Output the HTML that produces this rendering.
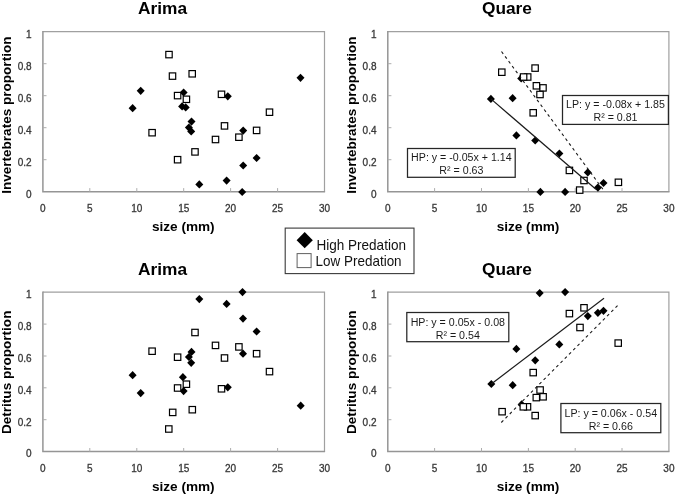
<!DOCTYPE html>
<html><head><meta charset="utf-8"><title>Diet proportion vs size</title>
<style>html,body{margin:0;padding:0;background:#fff;}svg{display:block;will-change:transform;filter:blur(0.3px);}text{font-family:"Liberation Sans", sans-serif;}</style></head><body>
<svg width="675" height="495" viewBox="0 0 675 495">
<rect x="0" y="0" width="675" height="495" fill="#ffffff"/>
<g id="panel-TL">
<text x="162.6" y="14.3" font-size="17.3" font-weight="bold" fill="#000" text-anchor="middle">Arima</text>
<path d="M42.9 31.7 H324.5 V191.7" fill="none" stroke="#a0a0a0" stroke-width="1.2"/>
<path d="M42.9 31.1 V191.7 H325.1" fill="none" stroke="#959595" stroke-width="1.5"/>
<text x="31.6" y="197.5" font-size="10.0" fill="#383838" stroke="#383838" stroke-width="0.3" text-anchor="end">0</text>
<path d="M42.9 159.7 h3.6" stroke="#adadad" stroke-width="1"/>
<text x="31.6" y="165.5" font-size="10.0" fill="#383838" stroke="#383838" stroke-width="0.3" text-anchor="end">0.2</text>
<path d="M42.9 127.7 h3.6" stroke="#adadad" stroke-width="1"/>
<text x="31.6" y="133.5" font-size="10.0" fill="#383838" stroke="#383838" stroke-width="0.3" text-anchor="end">0.4</text>
<path d="M42.9 95.7 h3.6" stroke="#adadad" stroke-width="1"/>
<text x="31.6" y="101.5" font-size="10.0" fill="#383838" stroke="#383838" stroke-width="0.3" text-anchor="end">0.6</text>
<path d="M42.9 63.7 h3.6" stroke="#adadad" stroke-width="1"/>
<text x="31.6" y="69.5" font-size="10.0" fill="#383838" stroke="#383838" stroke-width="0.3" text-anchor="end">0.8</text>
<text x="31.6" y="37.5" font-size="10.0" fill="#383838" stroke="#383838" stroke-width="0.3" text-anchor="end">1</text>
<text x="42.9" y="211.6" font-size="10.0" fill="#383838" stroke="#383838" stroke-width="0.3" text-anchor="middle">0</text>
<path d="M89.8 191.7 v-3.6" stroke="#adadad" stroke-width="1"/>
<text x="89.8" y="211.6" font-size="10.0" fill="#383838" stroke="#383838" stroke-width="0.3" text-anchor="middle">5</text>
<path d="M136.8 191.7 v-3.6" stroke="#adadad" stroke-width="1"/>
<text x="136.8" y="211.6" font-size="10.0" fill="#383838" stroke="#383838" stroke-width="0.3" text-anchor="middle">10</text>
<path d="M183.7 191.7 v-3.6" stroke="#adadad" stroke-width="1"/>
<text x="183.7" y="211.6" font-size="10.0" fill="#383838" stroke="#383838" stroke-width="0.3" text-anchor="middle">15</text>
<path d="M230.6 191.7 v-3.6" stroke="#adadad" stroke-width="1"/>
<text x="230.6" y="211.6" font-size="10.0" fill="#383838" stroke="#383838" stroke-width="0.3" text-anchor="middle">20</text>
<path d="M277.6 191.7 v-3.6" stroke="#adadad" stroke-width="1"/>
<text x="277.6" y="211.6" font-size="10.0" fill="#383838" stroke="#383838" stroke-width="0.3" text-anchor="middle">25</text>
<text x="324.5" y="211.6" font-size="10.0" fill="#383838" stroke="#383838" stroke-width="0.3" text-anchor="middle">30</text>
<text x="183.3" y="230.7" font-size="13.6" font-weight="bold" fill="#000" text-anchor="middle">size (mm)</text>
<text transform="translate(11.4 115.2) rotate(-90)" font-size="13.55" font-weight="bold" fill="#000" text-anchor="middle">Invertebrates proportion</text>
<path d="M140.7 86.7 l4.0 4.1 l-4.0 4.1 l-4.0 -4.1 z" fill="#000"/>
<path d="M132.6 104.1 l4.0 4.1 l-4.0 4.1 l-4.0 -4.1 z" fill="#000"/>
<path d="M183.6 88.4 l4.0 4.1 l-4.0 4.1 l-4.0 -4.1 z" fill="#000"/>
<path d="M182.1 102.3 l4.0 4.1 l-4.0 4.1 l-4.0 -4.1 z" fill="#000"/>
<path d="M185.7 103.3 l4.0 4.1 l-4.0 4.1 l-4.0 -4.1 z" fill="#000"/>
<path d="M191.5 117.5 l4.0 4.1 l-4.0 4.1 l-4.0 -4.1 z" fill="#000"/>
<path d="M188.9 123.5 l4.0 4.1 l-4.0 4.1 l-4.0 -4.1 z" fill="#000"/>
<path d="M191.2 127.3 l4.0 4.1 l-4.0 4.1 l-4.0 -4.1 z" fill="#000"/>
<path d="M227.8 92.2 l4.0 4.1 l-4.0 4.1 l-4.0 -4.1 z" fill="#000"/>
<path d="M300.5 73.7 l4.0 4.1 l-4.0 4.1 l-4.0 -4.1 z" fill="#000"/>
<path d="M243.2 126.5 l4.0 4.1 l-4.0 4.1 l-4.0 -4.1 z" fill="#000"/>
<path d="M256.6 153.9 l4.0 4.1 l-4.0 4.1 l-4.0 -4.1 z" fill="#000"/>
<path d="M243.2 161.4 l4.0 4.1 l-4.0 4.1 l-4.0 -4.1 z" fill="#000"/>
<path d="M199.3 180.3 l4.0 4.1 l-4.0 4.1 l-4.0 -4.1 z" fill="#000"/>
<path d="M226.6 176.5 l4.0 4.1 l-4.0 4.1 l-4.0 -4.1 z" fill="#000"/>
<path d="M242.2 187.9 l4.0 4.1 l-4.0 4.1 l-4.0 -4.1 z" fill="#000"/>
<rect x="266.3" y="109.0" width="6.4" height="6.4" fill="#fff" stroke="#000" stroke-width="1.2"/>
<rect x="253.4" y="127.2" width="6.4" height="6.4" fill="#fff" stroke="#000" stroke-width="1.2"/>
<rect x="235.7" y="134.0" width="6.4" height="6.4" fill="#fff" stroke="#000" stroke-width="1.2"/>
<rect x="221.3" y="122.7" width="6.4" height="6.4" fill="#fff" stroke="#000" stroke-width="1.2"/>
<rect x="218.3" y="91.1" width="6.4" height="6.4" fill="#fff" stroke="#000" stroke-width="1.2"/>
<rect x="212.3" y="136.3" width="6.4" height="6.4" fill="#fff" stroke="#000" stroke-width="1.2"/>
<rect x="191.8" y="148.7" width="6.4" height="6.4" fill="#fff" stroke="#000" stroke-width="1.2"/>
<rect x="189.0" y="70.6" width="6.4" height="6.4" fill="#fff" stroke="#000" stroke-width="1.2"/>
<rect x="183.2" y="96.1" width="6.4" height="6.4" fill="#fff" stroke="#000" stroke-width="1.2"/>
<rect x="174.4" y="92.4" width="6.4" height="6.4" fill="#fff" stroke="#000" stroke-width="1.2"/>
<rect x="174.4" y="156.5" width="6.4" height="6.4" fill="#fff" stroke="#000" stroke-width="1.2"/>
<rect x="169.3" y="72.9" width="6.4" height="6.4" fill="#fff" stroke="#000" stroke-width="1.2"/>
<rect x="165.8" y="51.4" width="6.4" height="6.4" fill="#fff" stroke="#000" stroke-width="1.2"/>
<rect x="148.9" y="129.5" width="6.4" height="6.4" fill="#fff" stroke="#000" stroke-width="1.2"/>
</g>
<g id="panel-TR">
<text x="507.0" y="14.1" font-size="17.3" font-weight="bold" fill="#000" text-anchor="middle">Quare</text>
<path d="M387.8 31.7 H668.9 V191.7" fill="none" stroke="#a0a0a0" stroke-width="1.2"/>
<path d="M387.8 31.1 V191.7 H669.5" fill="none" stroke="#959595" stroke-width="1.5"/>
<text x="376.5" y="197.5" font-size="10.0" fill="#383838" stroke="#383838" stroke-width="0.3" text-anchor="end">0</text>
<path d="M387.8 159.7 h3.6" stroke="#adadad" stroke-width="1"/>
<text x="376.5" y="165.5" font-size="10.0" fill="#383838" stroke="#383838" stroke-width="0.3" text-anchor="end">0.2</text>
<path d="M387.8 127.7 h3.6" stroke="#adadad" stroke-width="1"/>
<text x="376.5" y="133.5" font-size="10.0" fill="#383838" stroke="#383838" stroke-width="0.3" text-anchor="end">0.4</text>
<path d="M387.8 95.7 h3.6" stroke="#adadad" stroke-width="1"/>
<text x="376.5" y="101.5" font-size="10.0" fill="#383838" stroke="#383838" stroke-width="0.3" text-anchor="end">0.6</text>
<path d="M387.8 63.7 h3.6" stroke="#adadad" stroke-width="1"/>
<text x="376.5" y="69.5" font-size="10.0" fill="#383838" stroke="#383838" stroke-width="0.3" text-anchor="end">0.8</text>
<text x="376.5" y="37.5" font-size="10.0" fill="#383838" stroke="#383838" stroke-width="0.3" text-anchor="end">1</text>
<text x="387.8" y="211.6" font-size="10.0" fill="#383838" stroke="#383838" stroke-width="0.3" text-anchor="middle">0</text>
<path d="M434.6 191.7 v-3.6" stroke="#adadad" stroke-width="1"/>
<text x="434.6" y="211.6" font-size="10.0" fill="#383838" stroke="#383838" stroke-width="0.3" text-anchor="middle">5</text>
<path d="M481.5 191.7 v-3.6" stroke="#adadad" stroke-width="1"/>
<text x="481.5" y="211.6" font-size="10.0" fill="#383838" stroke="#383838" stroke-width="0.3" text-anchor="middle">10</text>
<path d="M528.4 191.7 v-3.6" stroke="#adadad" stroke-width="1"/>
<text x="528.4" y="211.6" font-size="10.0" fill="#383838" stroke="#383838" stroke-width="0.3" text-anchor="middle">15</text>
<path d="M575.2 191.7 v-3.6" stroke="#adadad" stroke-width="1"/>
<text x="575.2" y="211.6" font-size="10.0" fill="#383838" stroke="#383838" stroke-width="0.3" text-anchor="middle">20</text>
<path d="M622.0 191.7 v-3.6" stroke="#adadad" stroke-width="1"/>
<text x="622.0" y="211.6" font-size="10.0" fill="#383838" stroke="#383838" stroke-width="0.3" text-anchor="middle">25</text>
<text x="668.9" y="211.6" font-size="10.0" fill="#383838" stroke="#383838" stroke-width="0.3" text-anchor="middle">30</text>
<text x="528.0" y="230.7" font-size="13.6" font-weight="bold" fill="#000" text-anchor="middle">size (mm)</text>
<text transform="translate(356.0 115.2) rotate(-90)" font-size="13.55" font-weight="bold" fill="#000" text-anchor="middle">Invertebrates proportion</text>
<path d="M490.9 94.8 l4.0 4.1 l-4.0 4.1 l-4.0 -4.1 z" fill="#000"/>
<path d="M512.6 94.1 l4.0 4.1 l-4.0 4.1 l-4.0 -4.1 z" fill="#000"/>
<path d="M521.2 74.4 l4.0 4.1 l-4.0 4.1 l-4.0 -4.1 z" fill="#000"/>
<path d="M516.4 131.3 l4.0 4.1 l-4.0 4.1 l-4.0 -4.1 z" fill="#000"/>
<path d="M535.2 136.4 l4.0 4.1 l-4.0 4.1 l-4.0 -4.1 z" fill="#000"/>
<path d="M559.4 149.4 l4.0 4.1 l-4.0 4.1 l-4.0 -4.1 z" fill="#000"/>
<path d="M587.8 168.3 l4.0 4.1 l-4.0 4.1 l-4.0 -4.1 z" fill="#000"/>
<path d="M603.5 178.9 l4.0 4.1 l-4.0 4.1 l-4.0 -4.1 z" fill="#000"/>
<path d="M597.9 183.5 l4.0 4.1 l-4.0 4.1 l-4.0 -4.1 z" fill="#000"/>
<path d="M540.4 187.8 l4.0 4.1 l-4.0 4.1 l-4.0 -4.1 z" fill="#000"/>
<path d="M565.1 187.8 l4.0 4.1 l-4.0 4.1 l-4.0 -4.1 z" fill="#000"/>
<rect x="615.2" y="179.1" width="6.4" height="6.4" fill="#fff" stroke="#000" stroke-width="1.2"/>
<rect x="580.8" y="177.3" width="6.4" height="6.4" fill="#fff" stroke="#000" stroke-width="1.2"/>
<rect x="576.5" y="186.9" width="6.4" height="6.4" fill="#fff" stroke="#000" stroke-width="1.2"/>
<rect x="566.2" y="167.2" width="6.4" height="6.4" fill="#fff" stroke="#000" stroke-width="1.2"/>
<rect x="539.8" y="84.7" width="6.4" height="6.4" fill="#fff" stroke="#000" stroke-width="1.2"/>
<rect x="536.8" y="91.3" width="6.4" height="6.4" fill="#fff" stroke="#000" stroke-width="1.2"/>
<rect x="533.2" y="82.6" width="6.4" height="6.4" fill="#fff" stroke="#000" stroke-width="1.2"/>
<rect x="531.9" y="64.9" width="6.4" height="6.4" fill="#fff" stroke="#000" stroke-width="1.2"/>
<rect x="530.0" y="109.6" width="6.4" height="6.4" fill="#fff" stroke="#000" stroke-width="1.2"/>
<rect x="524.5" y="73.8" width="6.4" height="6.4" fill="#fff" stroke="#000" stroke-width="1.2"/>
<rect x="520.4" y="73.8" width="6.4" height="6.4" fill="#fff" stroke="#000" stroke-width="1.2"/>
<rect x="498.6" y="69.0" width="6.4" height="6.4" fill="#fff" stroke="#000" stroke-width="1.2"/>
<path d="M490.9 98.9 L595.9 189.3" stroke="#1a1a1a" stroke-width="1.2" fill="none"/>
<path d="M501.5 51.5 L604.2 191.0" stroke="#1a1a1a" stroke-width="1.1" stroke-dasharray="2.9 3.1" fill="none"/>
<rect x="407.5" y="148.5" width="107.7" height="28.8" fill="#fff" stroke="#262626" stroke-width="1.25"/>
<text x="461.4" y="160.9" font-size="10.65" fill="#1a1a1a" text-anchor="middle">HP: y = -0.05x + 1.14</text>
<text x="461.4" y="173.9" font-size="10.65" fill="#1a1a1a" text-anchor="middle">R² = 0.63</text>
<rect x="562.5" y="95.5" width="105.9" height="28.9" fill="#fff" stroke="#262626" stroke-width="1.25"/>
<text x="615.5" y="108.0" font-size="10.65" fill="#1a1a1a" text-anchor="middle">LP: y = -0.08x + 1.85</text>
<text x="615.5" y="120.9" font-size="10.65" fill="#1a1a1a" text-anchor="middle">R² = 0.81</text>
</g>
<g id="panel-BL">
<text x="162.6" y="274.7" font-size="17.3" font-weight="bold" fill="#000" text-anchor="middle">Arima</text>
<path d="M42.9 292.2 H324.5 V451.6" fill="none" stroke="#a0a0a0" stroke-width="1.2"/>
<path d="M42.9 291.6 V451.6 H325.1" fill="none" stroke="#959595" stroke-width="1.5"/>
<text x="31.6" y="457.4" font-size="10.0" fill="#383838" stroke="#383838" stroke-width="0.3" text-anchor="end">0</text>
<path d="M42.9 419.7 h3.6" stroke="#adadad" stroke-width="1"/>
<text x="31.6" y="425.5" font-size="10.0" fill="#383838" stroke="#383838" stroke-width="0.3" text-anchor="end">0.2</text>
<path d="M42.9 387.8 h3.6" stroke="#adadad" stroke-width="1"/>
<text x="31.6" y="393.6" font-size="10.0" fill="#383838" stroke="#383838" stroke-width="0.3" text-anchor="end">0.4</text>
<path d="M42.9 356.0 h3.6" stroke="#adadad" stroke-width="1"/>
<text x="31.6" y="361.8" font-size="10.0" fill="#383838" stroke="#383838" stroke-width="0.3" text-anchor="end">0.6</text>
<path d="M42.9 324.1 h3.6" stroke="#adadad" stroke-width="1"/>
<text x="31.6" y="329.9" font-size="10.0" fill="#383838" stroke="#383838" stroke-width="0.3" text-anchor="end">0.8</text>
<text x="31.6" y="298.0" font-size="10.0" fill="#383838" stroke="#383838" stroke-width="0.3" text-anchor="end">1</text>
<text x="42.9" y="471.5" font-size="10.0" fill="#383838" stroke="#383838" stroke-width="0.3" text-anchor="middle">0</text>
<path d="M89.8 451.6 v-3.6" stroke="#adadad" stroke-width="1"/>
<text x="89.8" y="471.5" font-size="10.0" fill="#383838" stroke="#383838" stroke-width="0.3" text-anchor="middle">5</text>
<path d="M136.8 451.6 v-3.6" stroke="#adadad" stroke-width="1"/>
<text x="136.8" y="471.5" font-size="10.0" fill="#383838" stroke="#383838" stroke-width="0.3" text-anchor="middle">10</text>
<path d="M183.7 451.6 v-3.6" stroke="#adadad" stroke-width="1"/>
<text x="183.7" y="471.5" font-size="10.0" fill="#383838" stroke="#383838" stroke-width="0.3" text-anchor="middle">15</text>
<path d="M230.6 451.6 v-3.6" stroke="#adadad" stroke-width="1"/>
<text x="230.6" y="471.5" font-size="10.0" fill="#383838" stroke="#383838" stroke-width="0.3" text-anchor="middle">20</text>
<path d="M277.6 451.6 v-3.6" stroke="#adadad" stroke-width="1"/>
<text x="277.6" y="471.5" font-size="10.0" fill="#383838" stroke="#383838" stroke-width="0.3" text-anchor="middle">25</text>
<text x="324.5" y="471.5" font-size="10.0" fill="#383838" stroke="#383838" stroke-width="0.3" text-anchor="middle">30</text>
<text x="183.3" y="490.6" font-size="13.6" font-weight="bold" fill="#000" text-anchor="middle">size (mm)</text>
<text transform="translate(11.4 372.3) rotate(-90)" font-size="13.55" font-weight="bold" fill="#000" text-anchor="middle">Detritus proportion</text>
<path d="M242.5 288.0 l4.0 4.1 l-4.0 4.1 l-4.0 -4.1 z" fill="#000"/>
<path d="M199.3 295.0 l4.0 4.1 l-4.0 4.1 l-4.0 -4.1 z" fill="#000"/>
<path d="M226.6 299.8 l4.0 4.1 l-4.0 4.1 l-4.0 -4.1 z" fill="#000"/>
<path d="M243.0 314.5 l4.0 4.1 l-4.0 4.1 l-4.0 -4.1 z" fill="#000"/>
<path d="M256.6 327.4 l4.0 4.1 l-4.0 4.1 l-4.0 -4.1 z" fill="#000"/>
<path d="M243.0 349.6 l4.0 4.1 l-4.0 4.1 l-4.0 -4.1 z" fill="#000"/>
<path d="M191.5 347.8 l4.0 4.1 l-4.0 4.1 l-4.0 -4.1 z" fill="#000"/>
<path d="M188.9 352.9 l4.0 4.1 l-4.0 4.1 l-4.0 -4.1 z" fill="#000"/>
<path d="M191.2 358.7 l4.0 4.1 l-4.0 4.1 l-4.0 -4.1 z" fill="#000"/>
<path d="M132.6 371.1 l4.0 4.1 l-4.0 4.1 l-4.0 -4.1 z" fill="#000"/>
<path d="M140.7 389.0 l4.0 4.1 l-4.0 4.1 l-4.0 -4.1 z" fill="#000"/>
<path d="M182.9 373.1 l4.0 4.1 l-4.0 4.1 l-4.0 -4.1 z" fill="#000"/>
<path d="M183.6 387.0 l4.0 4.1 l-4.0 4.1 l-4.0 -4.1 z" fill="#000"/>
<path d="M227.8 383.2 l4.0 4.1 l-4.0 4.1 l-4.0 -4.1 z" fill="#000"/>
<path d="M300.7 401.6 l4.0 4.1 l-4.0 4.1 l-4.0 -4.1 z" fill="#000"/>
<rect x="266.3" y="368.4" width="6.4" height="6.4" fill="#fff" stroke="#000" stroke-width="1.2"/>
<rect x="253.4" y="350.5" width="6.4" height="6.4" fill="#fff" stroke="#000" stroke-width="1.2"/>
<rect x="235.7" y="343.7" width="6.4" height="6.4" fill="#fff" stroke="#000" stroke-width="1.2"/>
<rect x="221.3" y="354.8" width="6.4" height="6.4" fill="#fff" stroke="#000" stroke-width="1.2"/>
<rect x="218.3" y="385.6" width="6.4" height="6.4" fill="#fff" stroke="#000" stroke-width="1.2"/>
<rect x="212.3" y="342.2" width="6.4" height="6.4" fill="#fff" stroke="#000" stroke-width="1.2"/>
<rect x="191.8" y="329.3" width="6.4" height="6.4" fill="#fff" stroke="#000" stroke-width="1.2"/>
<rect x="189.1" y="406.5" width="6.4" height="6.4" fill="#fff" stroke="#000" stroke-width="1.2"/>
<rect x="183.2" y="381.0" width="6.4" height="6.4" fill="#fff" stroke="#000" stroke-width="1.2"/>
<rect x="174.4" y="354.0" width="6.4" height="6.4" fill="#fff" stroke="#000" stroke-width="1.2"/>
<rect x="174.4" y="384.8" width="6.4" height="6.4" fill="#fff" stroke="#000" stroke-width="1.2"/>
<rect x="169.5" y="409.2" width="6.4" height="6.4" fill="#fff" stroke="#000" stroke-width="1.2"/>
<rect x="165.6" y="425.8" width="6.4" height="6.4" fill="#fff" stroke="#000" stroke-width="1.2"/>
<rect x="148.9" y="348.0" width="6.4" height="6.4" fill="#fff" stroke="#000" stroke-width="1.2"/>
</g>
<g id="panel-BR">
<text x="507.0" y="274.5" font-size="17.3" font-weight="bold" fill="#000" text-anchor="middle">Quare</text>
<path d="M387.8 292.2 H668.9 V451.6" fill="none" stroke="#a0a0a0" stroke-width="1.2"/>
<path d="M387.8 291.6 V451.6 H669.5" fill="none" stroke="#959595" stroke-width="1.5"/>
<text x="376.5" y="457.4" font-size="10.0" fill="#383838" stroke="#383838" stroke-width="0.3" text-anchor="end">0</text>
<path d="M387.8 419.7 h3.6" stroke="#adadad" stroke-width="1"/>
<text x="376.5" y="425.5" font-size="10.0" fill="#383838" stroke="#383838" stroke-width="0.3" text-anchor="end">0.2</text>
<path d="M387.8 387.8 h3.6" stroke="#adadad" stroke-width="1"/>
<text x="376.5" y="393.6" font-size="10.0" fill="#383838" stroke="#383838" stroke-width="0.3" text-anchor="end">0.4</text>
<path d="M387.8 356.0 h3.6" stroke="#adadad" stroke-width="1"/>
<text x="376.5" y="361.8" font-size="10.0" fill="#383838" stroke="#383838" stroke-width="0.3" text-anchor="end">0.6</text>
<path d="M387.8 324.1 h3.6" stroke="#adadad" stroke-width="1"/>
<text x="376.5" y="329.9" font-size="10.0" fill="#383838" stroke="#383838" stroke-width="0.3" text-anchor="end">0.8</text>
<text x="376.5" y="298.0" font-size="10.0" fill="#383838" stroke="#383838" stroke-width="0.3" text-anchor="end">1</text>
<text x="387.8" y="471.5" font-size="10.0" fill="#383838" stroke="#383838" stroke-width="0.3" text-anchor="middle">0</text>
<path d="M434.6 451.6 v-3.6" stroke="#adadad" stroke-width="1"/>
<text x="434.6" y="471.5" font-size="10.0" fill="#383838" stroke="#383838" stroke-width="0.3" text-anchor="middle">5</text>
<path d="M481.5 451.6 v-3.6" stroke="#adadad" stroke-width="1"/>
<text x="481.5" y="471.5" font-size="10.0" fill="#383838" stroke="#383838" stroke-width="0.3" text-anchor="middle">10</text>
<path d="M528.4 451.6 v-3.6" stroke="#adadad" stroke-width="1"/>
<text x="528.4" y="471.5" font-size="10.0" fill="#383838" stroke="#383838" stroke-width="0.3" text-anchor="middle">15</text>
<path d="M575.2 451.6 v-3.6" stroke="#adadad" stroke-width="1"/>
<text x="575.2" y="471.5" font-size="10.0" fill="#383838" stroke="#383838" stroke-width="0.3" text-anchor="middle">20</text>
<path d="M622.0 451.6 v-3.6" stroke="#adadad" stroke-width="1"/>
<text x="622.0" y="471.5" font-size="10.0" fill="#383838" stroke="#383838" stroke-width="0.3" text-anchor="middle">25</text>
<text x="668.9" y="471.5" font-size="10.0" fill="#383838" stroke="#383838" stroke-width="0.3" text-anchor="middle">30</text>
<text x="528.0" y="490.6" font-size="13.6" font-weight="bold" fill="#000" text-anchor="middle">size (mm)</text>
<text transform="translate(356.0 372.3) rotate(-90)" font-size="13.55" font-weight="bold" fill="#000" text-anchor="middle">Detritus proportion</text>
<path d="M539.7 289.0 l4.0 4.1 l-4.0 4.1 l-4.0 -4.1 z" fill="#000"/>
<path d="M565.1 288.0 l4.0 4.1 l-4.0 4.1 l-4.0 -4.1 z" fill="#000"/>
<path d="M587.8 312.0 l4.0 4.1 l-4.0 4.1 l-4.0 -4.1 z" fill="#000"/>
<path d="M597.9 308.7 l4.0 4.1 l-4.0 4.1 l-4.0 -4.1 z" fill="#000"/>
<path d="M603.5 306.7 l4.0 4.1 l-4.0 4.1 l-4.0 -4.1 z" fill="#000"/>
<path d="M559.3 340.3 l4.0 4.1 l-4.0 4.1 l-4.0 -4.1 z" fill="#000"/>
<path d="M516.4 344.8 l4.0 4.1 l-4.0 4.1 l-4.0 -4.1 z" fill="#000"/>
<path d="M535.2 356.2 l4.0 4.1 l-4.0 4.1 l-4.0 -4.1 z" fill="#000"/>
<path d="M512.7 381.1 l4.0 4.1 l-4.0 4.1 l-4.0 -4.1 z" fill="#000"/>
<path d="M491.3 379.9 l4.0 4.1 l-4.0 4.1 l-4.0 -4.1 z" fill="#000"/>
<path d="M521.6 400.3 l4.0 4.1 l-4.0 4.1 l-4.0 -4.1 z" fill="#000"/>
<rect x="615.0" y="339.9" width="6.4" height="6.4" fill="#fff" stroke="#000" stroke-width="1.2"/>
<rect x="580.8" y="304.6" width="6.4" height="6.4" fill="#fff" stroke="#000" stroke-width="1.2"/>
<rect x="576.8" y="324.3" width="6.4" height="6.4" fill="#fff" stroke="#000" stroke-width="1.2"/>
<rect x="566.2" y="310.4" width="6.4" height="6.4" fill="#fff" stroke="#000" stroke-width="1.2"/>
<rect x="539.9" y="393.6" width="6.4" height="6.4" fill="#fff" stroke="#000" stroke-width="1.2"/>
<rect x="536.9" y="386.8" width="6.4" height="6.4" fill="#fff" stroke="#000" stroke-width="1.2"/>
<rect x="533.1" y="394.4" width="6.4" height="6.4" fill="#fff" stroke="#000" stroke-width="1.2"/>
<rect x="532.0" y="412.4" width="6.4" height="6.4" fill="#fff" stroke="#000" stroke-width="1.2"/>
<rect x="530.0" y="369.4" width="6.4" height="6.4" fill="#fff" stroke="#000" stroke-width="1.2"/>
<rect x="524.3" y="403.6" width="6.4" height="6.4" fill="#fff" stroke="#000" stroke-width="1.2"/>
<rect x="520.1" y="403.6" width="6.4" height="6.4" fill="#fff" stroke="#000" stroke-width="1.2"/>
<rect x="498.9" y="408.5" width="6.4" height="6.4" fill="#fff" stroke="#000" stroke-width="1.2"/>
<path d="M491.3 384.0 L604.0 298.2" stroke="#1a1a1a" stroke-width="1.2" fill="none"/>
<path d="M501.3 422.5 L618.6 304.5" stroke="#1a1a1a" stroke-width="1.1" stroke-dasharray="2.9 3.1" fill="none"/>
<rect x="406.8" y="312.5" width="102.0" height="29.2" fill="#fff" stroke="#262626" stroke-width="1.25"/>
<text x="457.8" y="325.9" font-size="10.65" fill="#1a1a1a" text-anchor="middle">HP: y = 0.05x - 0.08</text>
<text x="457.8" y="338.8" font-size="10.65" fill="#1a1a1a" text-anchor="middle">R² = 0.54</text>
<rect x="560.9" y="403.5" width="99.9" height="29.2" fill="#fff" stroke="#262626" stroke-width="1.25"/>
<text x="610.8" y="416.9" font-size="10.65" fill="#1a1a1a" text-anchor="middle">LP: y = 0.06x - 0.54</text>
<text x="610.8" y="429.8" font-size="10.65" fill="#1a1a1a" text-anchor="middle">R² = 0.66</text>
</g>
<g id="legend">
<rect x="285.2" y="228.1" width="128.8" height="45.5" fill="#fff" stroke="#3a3a3a" stroke-width="1.1"/>
<path d="M304.7 232.1 l8.1 8.1 l-8.1 8.1 l-8.1 -8.1 z" fill="#000"/>
<rect x="297.1" y="253.6" width="14" height="14" fill="#fff" stroke="#606060" stroke-width="1"/>
<text x="316.4" y="249.6" font-size="14.1" fill="#111" textLength="89.6" lengthAdjust="spacingAndGlyphs">High Predation</text>
<text x="315.6" y="266.4" font-size="14.1" fill="#111" textLength="86.0" lengthAdjust="spacingAndGlyphs">Low Predation</text>
</g>
</svg></body></html>
